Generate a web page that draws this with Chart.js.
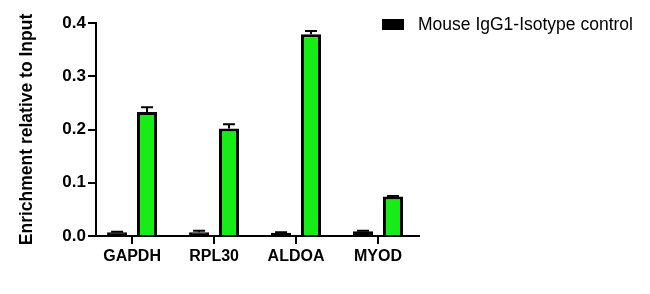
<!DOCTYPE html>
<html>
<head>
<meta charset="utf-8">
<script src="https://cdn.jsdelivr.net/npm/chart.js@4"></script>
<style>
  html, body { margin: 0; padding: 0; background: #fff; }
  #wrap { width: 650px; height: 294px; }
</style>
</head>
<body>
<div id="wrap"><canvas id="chipChart" width="650" height="294"></canvas></div>
<script>
// values
const genes = ['GAPDH', 'RPL30', 'ALDOA', 'MYOD'];
const isotypeValues = [0.007, 0.007, 0.006, 0.009];
const isotypeErrors = [0.001, 0.003, 0.001, 0.001];
const targetValues = [0.233, 0.202, 0.379, 0.074];
const targetErrors = [0.009, 0.008, 0.006, 0.001];
const yTicks = [0.0, 0.1, 0.2, 0.3, 0.4];
const legendLabel = 'Mouse IgG1-Isotype control';
const yTitle = 'Enrichment relative to Input';

const fontFamily = '"Liberation Sans", Arial, Helvetica, sans-serif';
const errors = [isotypeErrors, targetErrors];

// draws the upper half of the error bars (GraphPad style)
const errorBars = {
  id: 'errorBars',
  afterDatasetsDraw(chart) {
    const ctx = chart.ctx;
    const y = chart.scales.y;
    ctx.save();
    ctx.strokeStyle = '#000';
    ctx.lineWidth = 2;
    chart.data.datasets.forEach((ds, i) => {
      const meta = chart.getDatasetMeta(i);
      meta.data.forEach((bar, j) => {
        const top = y.getPixelForValue(ds.data[j] + errors[i][j]);
        const base = y.getPixelForValue(ds.data[j]);
        const half = 6;
        ctx.beginPath();
        ctx.moveTo(bar.x, base);
        ctx.lineTo(bar.x, top);
        ctx.moveTo(bar.x - half, top);
        ctx.lineTo(bar.x + half, top);
        ctx.stroke();
      });
    });
    ctx.restore();
  }
};

// legend only lists the isotype control, as in the figure
const sideLegend = {
  id: 'sideLegend',
  afterDraw(chart) {
    const ctx = chart.ctx;
    ctx.save();
    ctx.fillStyle = '#000';
    ctx.fillRect(382, 19, 22, 11);
    ctx.font = '17.5px ' + fontFamily;
    ctx.textBaseline = 'middle';
    ctx.textAlign = 'left';
    ctx.fillText(legendLabel, 418, 25);
    ctx.restore();
  }
};

new Chart(document.getElementById('chipChart'), {
  type: 'bar',
  data: {
    labels: genes,
    datasets: [
      {
        label: legendLabel,
        data: isotypeValues,
        backgroundColor: '#000',
        borderColor: '#000',
        borderWidth: 3,
        categoryPercentage: 0.73,
        barPercentage: 0.67
      },
      {
        label: 'Target',
        data: targetValues,
        backgroundColor: '#16ec16',
        borderColor: '#000',
        borderWidth: 3,
        categoryPercentage: 0.73,
        barPercentage: 0.67
      }
    ]
  },
  options: {
    responsive: false,
    animation: false,
    layout: {
      padding: { left: 0, right: 231, top: 23, bottom: 0 }
    },
    plugins: {
      legend: { display: false },
      tooltip: { enabled: false }
    },
    scales: {
      x: {
        offset: true,
        afterFit: (scale) => { scale.height = 58; },
        // prism leaves a bit less room before the first group than after the last one
        afterBuildTicks: (scale) => {
          scale._startValue = -0.44;
          scale._valueRange = 3.94;
        },
        border: { display: true, color: '#000', width: 2 },
        grid: {
          display: true,
          offset: false,
          drawOnChartArea: false,
          drawTicks: true,
          tickLength: 8,
          color: '#000',
          lineWidth: 2
        },
        ticks: {
          color: '#000',
          padding: 3,
          font: { family: fontFamily, size: 16, weight: 'bold' }
        }
      },
      y: {
        min: 0,
        max: 0.4,
        afterFit: (scale) => { scale.width = 96; },
        afterBuildTicks: (scale) => { scale.ticks = yTicks.map(v => ({ value: v })); },
        border: { display: true, color: '#000', width: 2 },
        grid: {
          display: true,
          drawOnChartArea: false,
          drawTicks: true,
          tickLength: 8,
          color: '#000',
          lineWidth: 2
        },
        ticks: {
          color: '#000',
          padding: 2,
          font: { family: fontFamily, size: 17, weight: 'bold' },
          callback: (v) => Number(v).toFixed(1)
        },
        title: {
          display: true,
          text: yTitle,
          color: '#000',
          padding: { top: 17, bottom: 4 },
          font: { family: fontFamily, size: 17.5, weight: 'bold' }
        }
      }
    }
  },
  plugins: [errorBars, sideLegend]
});
</script>
</body>
</html>
